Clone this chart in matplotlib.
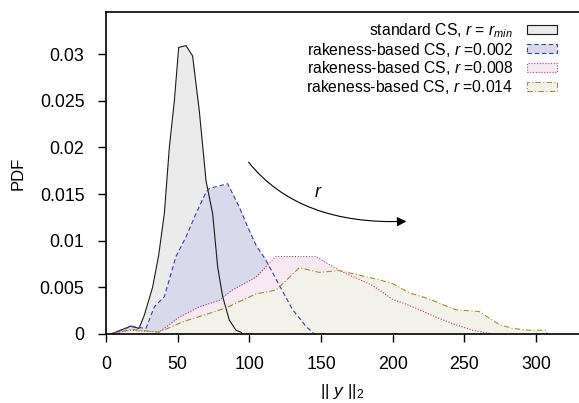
import matplotlib
matplotlib.use("Agg")
import matplotlib.pyplot as plt
from matplotlib.patches import Patch, FancyArrowPatch
from matplotlib.path import Path

plt.rcParams['font.family'] = ['Liberation Sans', 'DejaVu Sans']
plt.rcParams['mathtext.fontset'] = 'custom'
plt.rcParams['mathtext.rm'] = 'Liberation Sans'
plt.rcParams['mathtext.it'] = 'Liberation Sans:italic'

# ------------------------------------------
# DATA
# ------------------------------------------
std_x = [3.5, 17.4, 23, 26.7, 32.5, 36.7, 40.7, 44.2, 47.7, 50.7, 55.8, 60.4,
         65.1, 69.8, 74.4, 77.9, 81.4, 86, 90.7, 94.2, 95]
std_y = [0, 0.00085, 0.0006, 0.002, 0.005, 0.0084, 0.0129, 0.020, 0.025, 0.0307,
         0.0309, 0.0298, 0.0239, 0.0164, 0.0129, 0.0072, 0.004, 0.0015, 0.0004,
         0.0002, 0]

r002_x = [3.5, 17.4, 27.9, 33.7, 40.7, 48.8, 55.8, 62.8, 69.8, 72.1, 84.9, 93,
          98.8, 104.7, 111.6, 121, 130.2, 139.6, 145.4]
r002_y = [0, 0.0008, 0.0006, 0.0029, 0.004, 0.0083, 0.0104, 0.0129, 0.0152,
          0.0156, 0.0161, 0.0136, 0.0115, 0.0095, 0.0079, 0.0052, 0.0026,
          0.0008, 0]

r008_x = [3.5, 17.4, 37, 51, 65, 79, 88, 104.7, 111.6, 118.6, 146.5, 162.8,
          186, 190.7, 200, 209.4, 218.6, 230.3, 242, 256, 270]
r008_y = [0, 0.0004, 0.0002, 0.0018, 0.0029, 0.0036, 0.0047, 0.0061, 0.0072,
          0.0083, 0.0083, 0.0068, 0.0052, 0.0047, 0.0037, 0.0032, 0.0026,
          0.0018, 0.0011, 0.0004, 0]

r014_x = [3.5, 17.4, 37, 53.5, 69.8, 83.7, 104.7, 118.6, 134.9, 148.8, 162.8,
          190.8, 200, 211.7, 218.6, 227.9, 237.3, 244.3, 260.5, 267.5, 274.5,
          283.7, 295.4, 307, 308]
r014_y = [0, 0.0005, 0.0002, 0.0013, 0.0021, 0.0028, 0.0043, 0.0047, 0.0071,
          0.0066, 0.0068, 0.0058, 0.0054, 0.0044, 0.0041, 0.0036, 0.003,
          0.0026, 0.0024, 0.0017, 0.001, 0.0006, 0.0004, 0.0004, 0]

labels = ["standard CS, $r$ = $r_{min}$",
          "rakeness-based CS, $r$ =0.002",
          "rakeness-based CS, $r$ =0.008",
          "rakeness-based CS, $r$ =0.014"]

# ------------------------------------------
# PLOT
# ------------------------------------------
series = [
    (std_x, std_y, '#ebebeb', '#1a1a1a', '-'),
    (r002_x, r002_y, '#d9d9ec', '#3c3ca8', (0, (4, 2.5))),
    (r008_x, r008_y, '#f6e9f1', '#b0407c', (0, (1, 1.5))),
    (r014_x, r014_y, '#f3f2ea', '#a0912e', (0, (5, 2, 1, 2))),
]

fig = plt.figure(figsize=(5.79, 4.03), dpi=100)
ax = fig.add_axes([106 / 579, (403 - 334) / 403, (579 - 106) / 579, (334 - 12) / 403])

# opaque fills stacked in order, lines on top
for x, y, fc, ec, ls in series:
    ax.fill_between(x, y, 0, color=fc, lw=0)
for x, y, fc, ec, ls in series:
    ax.plot(x, y, color=ec, lw=0.8, linestyle=ls)

handles = [Patch(facecolor=fc, edgecolor=ec, linestyle=ls, lw=0.8)
           for _, _, fc, ec, ls in series]
ax.legend(handles, labels, loc='upper right', frameon=False, markerfirst=False,
          fontsize=11.3, handlelength=1.9, handleheight=0.5, handletextpad=0.9,
          labelspacing=0.05, borderpad=0, borderaxespad=0,
          bbox_to_anchor=(0.9535, 0.972))

# curved "r" arrow (quadratic bezier)
arc = Path([(99.5, 0.0184), (134.9, 0.01164), (209.6, 0.01207)],
           [Path.MOVETO, Path.CURVE3, Path.CURVE3])
ax.add_patch(FancyArrowPatch(path=arc, arrowstyle='-|>', mutation_scale=14,
                             color='black', lw=0.8))
ax.text(148.3, 0.0152, "$r$", fontsize=13, ha='center', va='center')

ax.set_xlim(0, 330)
ax.set_ylim(0, 0.0345)
ax.set_xticks([0, 50, 100, 150, 200, 250, 300])
ax.set_yticks([0, 0.005, 0.01, 0.015, 0.02, 0.025, 0.03])
ax.set_yticklabels(["0", "0.005", "0.01", "0.015", "0.02", "0.025", "0.03"])
ax.tick_params(direction='out', length=5.5, width=1, labelsize=12.8)
ax.tick_params(axis='x', pad=10.5)
ax.tick_params(axis='y', pad=10)
ax.spines['right'].set_visible(False)
for s in ['left', 'bottom', 'top']:
    ax.spines[s].set_linewidth(1.2)

ax.set_ylabel("PDF", fontsize=12, labelpad=10)
ax.set_xlabel("|| $y$ ||$_2$", fontsize=12.5, labelpad=6)

plt.savefig("out.png", dpi=100)
